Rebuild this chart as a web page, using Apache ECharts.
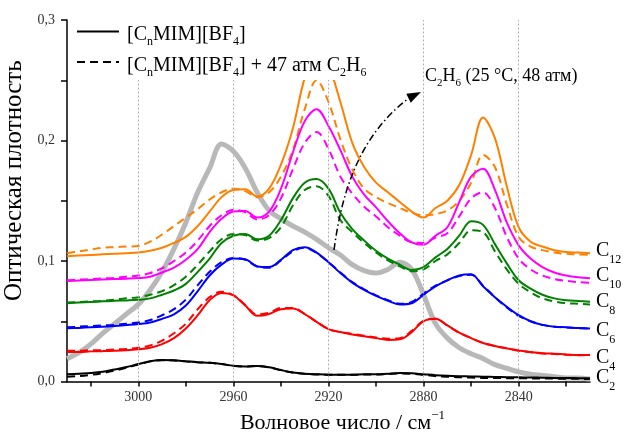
<!DOCTYPE html>
<html><head><meta charset="utf-8">
<script src="https://cdn.jsdelivr.net/npm/echarts@6/dist/echarts.min.js"></script>
<style>html,body{margin:0;padding:0;background:#fff}#c{width:623px;height:434px}</style>
</head><body><div id="c"></div>
<script>
const wavenumbers = [3030,3025,3020,3015,3010,3005,3000,2995,2990,2985,2980,2975,2970,2965,2960,2955,2950,2945,2940,2935,2930,2925,2920,2915,2910,2905,2900,2895,2890,2885,2880,2875,2870,2865,2860,2855,2850,2845,2840,2835,2830,2825,2820,2815,2810];

const ethaneGas = [0.019,0.024,0.031,0.040,0.048,0.056,0.064,0.076,0.091,0.110,0.132,0.157,0.177,0.197,0.191,0.177,0.157,0.142,0.135,0.129,0.124,0.118,0.111,0.105,0.097,0.092,0.090,0.093,0.099,0.093,0.072,0.048,0.036,0.028,0.023,0.019,0.014,0.011,0.008,0.006,0.005,0.004,0.003,0.003,0.002];

const c2Neat = [0.006,0.0065,0.007,0.008,0.010,0.012,0.0145,0.0168,0.0178,0.0176,0.0168,0.016,0.0155,0.0145,0.013,0.0125,0.0128,0.0118,0.0095,0.0075,0.0065,0.006,0.0057,0.0057,0.0057,0.006,0.006,0.0065,0.007,0.0068,0.006,0.0052,0.0047,0.0044,0.0042,0.004,0.0038,0.0036,0.0035,0.0033,0.0032,0.003,0.003,0.0028,0.0027];
const c2Gas = [0.004,0.0045,0.0055,0.007,0.009,0.0115,0.014,0.0167,0.0177,0.0175,0.0167,0.016,0.0155,0.0145,0.013,0.0125,0.0128,0.0117,0.0094,0.0074,0.0064,0.0059,0.0056,0.0056,0.0056,0.0058,0.0058,0.0062,0.0066,0.0064,0.0055,0.0045,0.004,0.0035,0.0033,0.003,0.003,0.0028,0.0027,0.0026,0.0025,0.0024,0.0023,0.0022,0.002];

const c4Neat = [0.0245,0.0245,0.025,0.0252,0.0255,0.026,0.0268,0.028,0.031,0.036,0.044,0.055,0.0675,0.0735,0.0715,0.063,0.0545,0.056,0.060,0.0605,0.056,0.0495,0.0435,0.041,0.039,0.0375,0.036,0.0345,0.035,0.041,0.050,0.052,0.0465,0.0405,0.036,0.032,0.0295,0.0275,0.0257,0.0245,0.0235,0.023,0.0225,0.022,0.022];
const c4Gas = [0.0255,0.0255,0.026,0.026,0.0265,0.027,0.028,0.030,0.034,0.040,0.048,0.060,0.070,0.0745,0.0715,0.0635,0.0555,0.057,0.061,0.061,0.056,0.0495,0.0435,0.041,0.0395,0.038,0.0365,0.0355,0.036,0.042,0.0505,0.052,0.0465,0.0405,0.036,0.032,0.0295,0.0275,0.0255,0.0243,0.0233,0.0228,0.0222,0.0218,0.0217];

const c6Neat = [0.0441,0.0445,0.045,0.0455,0.046,0.0468,0.0477,0.049,0.052,0.0558,0.063,0.075,0.088,0.097,0.102,0.1015,0.0955,0.095,0.101,0.109,0.1115,0.107,0.099,0.090,0.082,0.076,0.071,0.067,0.064,0.065,0.072,0.079,0.084,0.088,0.089,0.079,0.070,0.062,0.055,0.050,0.047,0.0455,0.045,0.0443,0.044];
const c6Gas = [0.045,0.0455,0.046,0.0465,0.047,0.048,0.049,0.051,0.055,0.060,0.068,0.080,0.091,0.099,0.1025,0.101,0.0955,0.0945,0.1005,0.108,0.111,0.1065,0.099,0.0905,0.0825,0.0765,0.0715,0.0675,0.0645,0.066,0.073,0.0795,0.084,0.0875,0.0885,0.0795,0.070,0.0615,0.0545,0.050,0.047,0.0455,0.0448,0.0443,0.044];

const c8Neat = [0.065,0.0655,0.066,0.0665,0.067,0.0673,0.0678,0.069,0.072,0.0755,0.081,0.091,0.102,0.115,0.121,0.1225,0.118,0.121,0.134,0.152,0.165,0.168,0.160,0.140,0.1265,0.117,0.1085,0.102,0.097,0.0925,0.095,0.103,0.110,0.121,0.133,0.130,0.114,0.098,0.084,0.077,0.072,0.069,0.0675,0.0668,0.0662];
const c8Gas = [0.0655,0.066,0.0665,0.067,0.068,0.069,0.070,0.072,0.075,0.080,0.087,0.097,0.108,0.118,0.1225,0.1215,0.117,0.119,0.128,0.146,0.159,0.162,0.154,0.134,0.124,0.115,0.107,0.1005,0.0955,0.0915,0.093,0.100,0.1055,0.115,0.1255,0.124,0.108,0.093,0.081,0.074,0.069,0.0665,0.065,0.0645,0.064];

const c10Neat = [0.0834,0.0838,0.0842,0.0846,0.085,0.0853,0.0858,0.087,0.0905,0.0945,0.101,0.110,0.124,0.135,0.141,0.1415,0.136,0.141,0.160,0.190,0.216,0.226,0.212,0.192,0.170,0.155,0.1445,0.133,0.123,0.1155,0.1135,0.121,0.128,0.149,0.170,0.1765,0.159,0.132,0.113,0.102,0.095,0.0905,0.088,0.0865,0.0856];
const c10Gas = [0.084,0.0845,0.085,0.0855,0.086,0.087,0.088,0.090,0.094,0.100,0.107,0.117,0.129,0.138,0.1425,0.1405,0.1345,0.138,0.152,0.176,0.198,0.207,0.193,0.170,0.156,0.145,0.137,0.128,0.121,0.1155,0.115,0.1195,0.123,0.137,0.152,0.157,0.144,0.120,0.102,0.093,0.088,0.085,0.0835,0.0825,0.082];

const c12Neat = [0.104,0.1045,0.105,0.1055,0.106,0.1065,0.107,0.1085,0.111,0.115,0.120,0.129,0.141,0.153,0.159,0.1595,0.1535,0.160,0.180,0.210,0.252,0.275,0.262,0.232,0.198,0.178,0.165,0.157,0.149,0.141,0.136,0.144,0.150,0.163,0.188,0.219,0.202,0.162,0.128,0.116,0.112,0.109,0.1075,0.107,0.1064];
const c12Gas = [0.1064,0.108,0.1095,0.111,0.1115,0.112,0.1125,0.116,0.122,0.129,0.136,0.143,0.151,0.157,0.160,0.158,0.153,0.157,0.170,0.192,0.226,0.250,0.232,0.201,0.176,0.160,0.153,0.148,0.144,0.140,0.138,0.139,0.142,0.150,0.165,0.188,0.178,0.147,0.120,0.112,0.109,0.107,0.106,0.1055,0.105];

const chainLengths = ['2','4','6','8','10','12'];
const chainColors = ['#000000','#ff0000','#0000ff','#008000','#ff00ff','#ff8000'];
const neatSeries = [c2Neat,c4Neat,c6Neat,c8Neat,c10Neat,c12Neat];
const gasSeries = [c2Gas,c4Gas,c6Gas,c8Gas,c10Gas,c12Gas];
const labelShift = [2,5,5,3,0,0];

const xTickValues = [3020,3000,2980,2960,2940,2920,2900,2880,2860,2840,2820];
const xLabelValues = [3000,2960,2920,2880,2840];
const gridValues = [3000,2960,2920,2880,2840];

const FONT = 'Liberation Serif';
const toPairs = arr => wavenumbers.map((w,i)=>[w,arr[i]]);

const series = [];
series.push({
  type:'line', name:'C2H6', data:toPairs(ethaneGas), smooth:0.35, symbol:'none', z:1,
  lineStyle:{color:'#b8b8b8', width:5},
  markLine:{silent:true, symbol:'none', label:{show:false}, animation:false,
    lineStyle:{color:'#b0b0b0', type:[2,2], width:1},
    data:gridValues.map(v=>({xAxis:v}))}
});
for (let k=0;k<6;k++){
  series.push({
    type:'line', data:toPairs(gasSeries[k]), smooth:0.35, symbol:'none', z:2,
    lineStyle:{color:chainColors[k], width:2, type:[8,5]}
  });
  series.push({
    type:'line', data:toPairs(neatSeries[k]), smooth:0.35, symbol:'none', z:3,
    lineStyle:{color:chainColors[k], width:2},
    endLabel:{show:true, distance:-6, align:'left', offset:[0,labelShift[k]],
      formatter:'{c|C}{s|'+chainLengths[k]+'}',
      rich:{c:{fontFamily:FONT,fontSize:20,lineHeight:25,verticalAlign:'top',color:'#000'},
            s:{fontFamily:FONT,fontSize:12,lineHeight:12,verticalAlign:'bottom',color:'#000'}}}
  });
}

const legendRich = {
  b:{fontFamily:FONT,fontSize:20,lineHeight:23,verticalAlign:'top',fill:'#000'},
  s:{fontFamily:FONT,fontSize:12,lineHeight:12,verticalAlign:'bottom',fill:'#000'}
};
const annRich = {
  b:{fontFamily:FONT,fontSize:18,lineHeight:21,verticalAlign:'top',fill:'#000'},
  s:{fontFamily:FONT,fontSize:11,lineHeight:11,verticalAlign:'bottom',fill:'#000'}
};

const option = {
  animation:false,
  backgroundColor:'#fff',
  grid:{left:67, top:20, width:523, height:361.5, containLabel:false, outerBoundsMode:'none'},
  xAxis:{
    type:'value', min:2810, max:3030, inverse:true,
    name:'{m|Волновое число / см}{p|−1}', nameLocation:'middle', nameGap:28,
    nameTextStyle:{fontFamily:FONT, fontSize:22, color:'#000', padding:[0,0,0,28],
      rich:{m:{fontFamily:FONT,fontSize:22,lineHeight:25,verticalAlign:'bottom',color:'#000'},
            p:{fontFamily:FONT,fontSize:13,lineHeight:13,verticalAlign:'top',color:'#000'}}},
    axisLine:{onZero:false, lineStyle:{color:'#000', width:1.5}},
    axisTick:{show:true, inside:false, length:5, customValues:xTickValues, lineStyle:{color:'#000', width:1.5}},
    axisLabel:{customValues:xLabelValues, formatter:v=>String(v), fontFamily:FONT, fontSize:14, color:'#333', margin:9},
    splitLine:{show:false}
  },
  yAxis:{
    type:'value', min:0, max:0.3, interval:0.05,
    name:'Оптическая плотность', nameLocation:'middle', nameGap:32,
    nameTextStyle:{fontFamily:FONT, fontSize:25, color:'#000', padding:[0,0,0,40]},
    axisLine:{show:true, onZero:false, lineStyle:{color:'#000', width:1.5}},
    axisTick:{show:true, inside:false, length:6, lineStyle:{color:'#000', width:1.5}},
    axisLabel:{fontFamily:FONT, fontSize:14, color:'#333', margin:12,
      formatter:v=>{const t=Math.round(v*100); return (t%10===0)?(t/100).toFixed(1).replace('.',','):'';}},
    splitLine:{show:false}
  },
  series:series,
  graphic:[
    {type:'rect', z:100, shape:{x:69, y:18, width:304, height:62}, style:{fill:'#fff'}},
    {type:'line', z:101, shape:{x1:77,y1:31.5,x2:119,y2:31.5}, style:{stroke:'#000', lineWidth:2}},
    {type:'line', z:101, shape:{x1:77,y1:62,x2:119,y2:62}, style:{stroke:'#000', lineWidth:2, lineDash:[8,5]}},
    {type:'text', z:101, x:127, y:36, style:{text:'{b|[C}{s|n}{b|MIM][BF}{s|4}{b|]}', rich:legendRich, align:'left', verticalAlign:'middle', fill:'#000', fontFamily:FONT, fontSize:20}},
    {type:'text', z:101, x:127, y:67, style:{text:'{b|[C}{s|n}{b|MIM][BF}{s|4}{b|] + 47 атм C}{s|2}{b|H}{s|6}', rich:legendRich, align:'left', verticalAlign:'middle', fill:'#000', fontFamily:FONT, fontSize:20}},
    {type:'text', z:101, x:425, y:78, style:{text:'{b|C}{s|2}{b|H}{s|6}{b| (25 °C, 48 атм)}', rich:annRich, align:'left', verticalAlign:'middle', fill:'#000', fontFamily:FONT, fontSize:18}},
    {type:'bezierCurve', z:101, shape:{x1:334,y1:250,cpx1:342,cpy1:190,cpx2:360,cpy2:135,x2:409,y2:98}, style:{stroke:'#000', fill:null, lineWidth:1.5, lineDash:[7,3,1.5,3]}},
    {type:'polygon', z:101, shape:{points:[[421,92],[410.7,102.8],[406.3,93.8]]}, style:{fill:'#000'}}
  ]
};
const chart = echarts.init(document.getElementById('c'));
chart.setOption(option);
</script>
</body></html>
